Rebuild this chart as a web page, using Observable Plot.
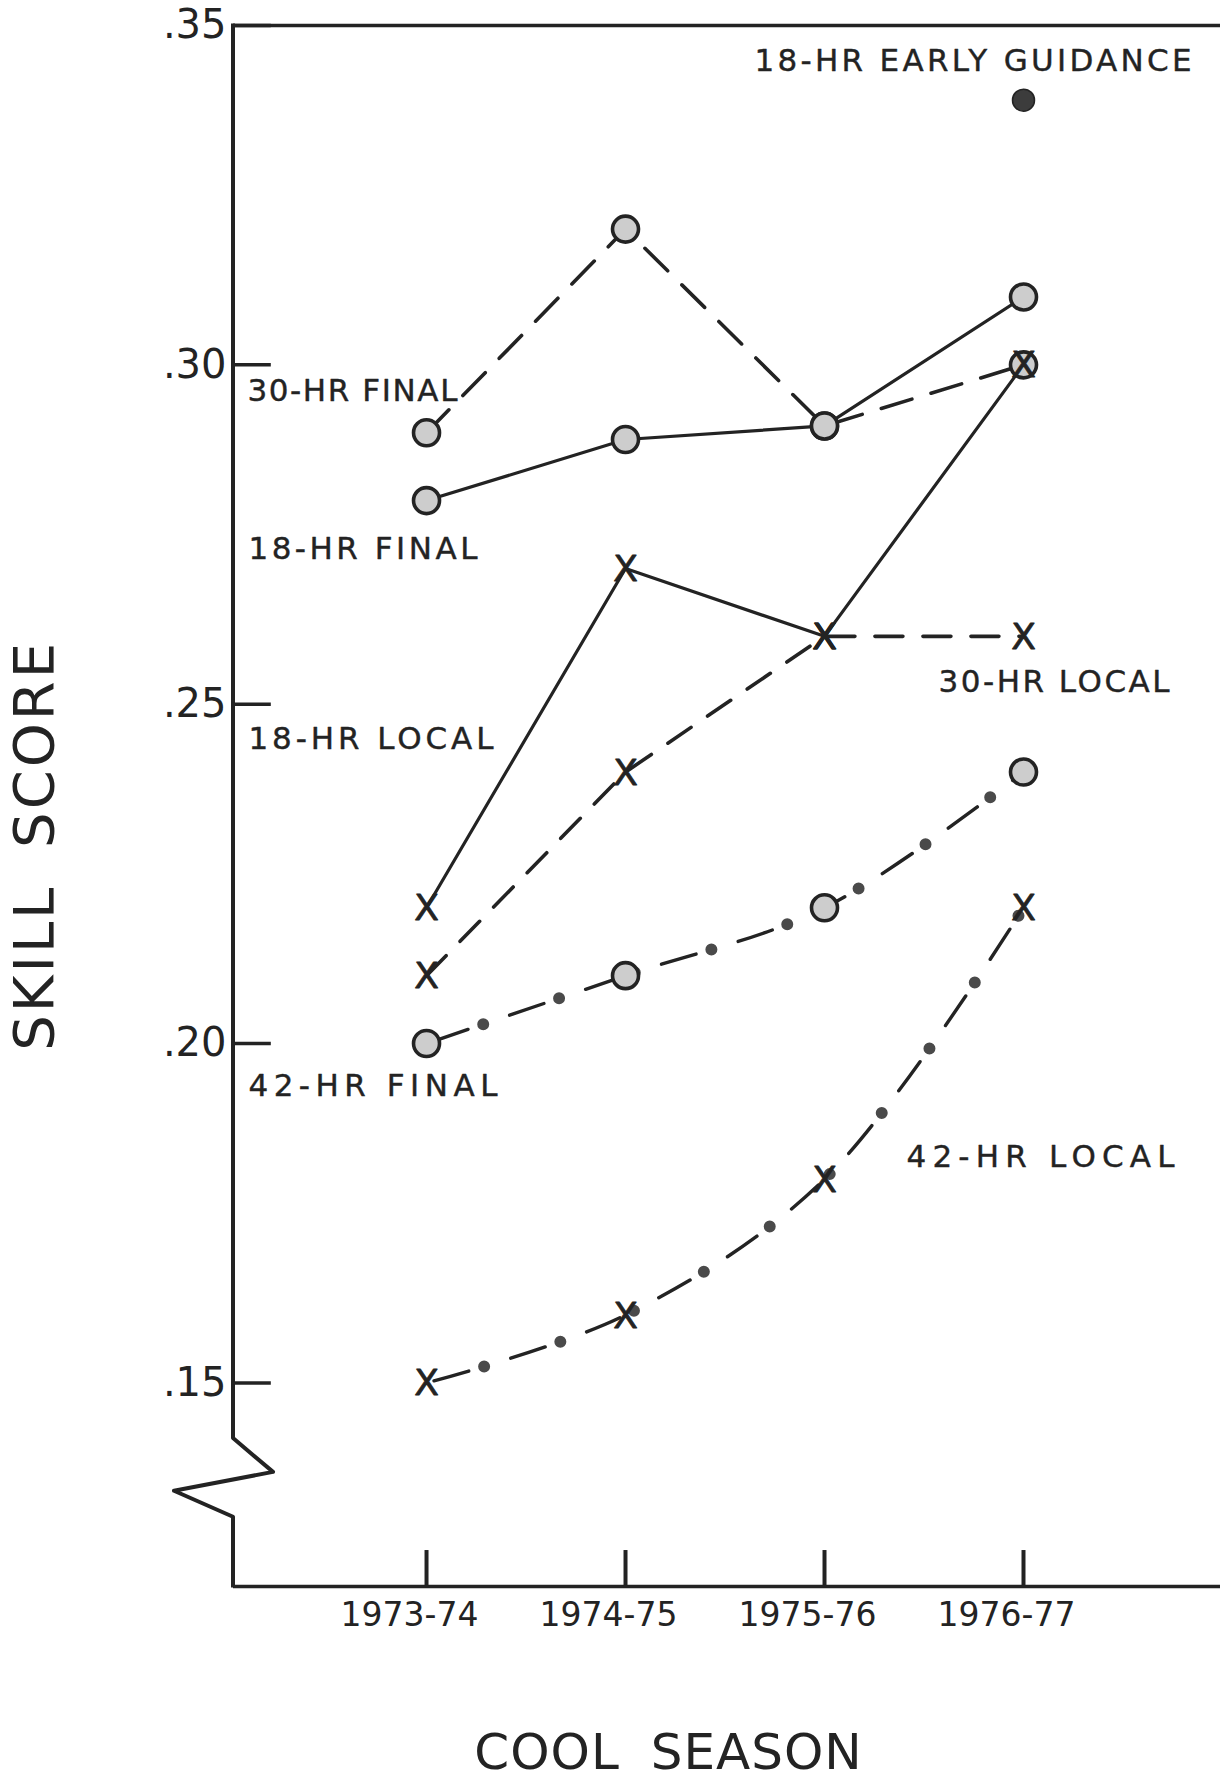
<!DOCTYPE html>
<html><head><meta charset="utf-8">
<script src="https://cdn.jsdelivr.net/npm/d3@7"></script>
<script src="https://cdn.jsdelivr.net/npm/@observablehq/plot@0.6"></script>
<style>
body{margin:0;background:#fff}
#chart svg{display:block}
</style>
</head><body><div id="chart"></div>
<script>
// ---- data ----
const seasons = ["1973-74", "1974-75", "1975-76", "1976-77"];
const final18 = [0.280, 0.289, 0.291, 0.310];
const final30 = [0.290, 0.320, 0.291, 0.300];
const local18 = [0.220, 0.270, 0.260, 0.300];
const local30 = [0.210, 0.240, 0.260, 0.260];
const final42 = [0.200, 0.210, 0.220, 0.240];
const local42 = [0.150, 0.160, 0.180, 0.220];
const earlyGuidance18 = [{season: "1976-77", value: 0.339}];
const yTicks = [0.15, 0.20, 0.25, 0.30, 0.35];
const yTickLabels = [".15", ".20", ".25", ".30", ".35"];
const seriesLabels = [
  {text: "18-HR EARLY GUIDANCE", x: 1.648, y: 0.3448},
  {text: "30-HR FINAL", x: -0.90, y: 0.2962},
  {text: "18-HR FINAL", x: -0.895, y: 0.2728},
  {text: "18-HR LOCAL", x: -0.895, y: 0.2448},
  {text: "30-HR LOCAL", x: 2.573, y: 0.2533},
  {text: "42-HR FINAL", x: -0.895, y: 0.1937},
  {text: "42-HR LOCAL", x: 2.412, y: 0.1832}
];
const xTitle = "COOL SEASON";
const yTitle = "SKILL SCORE";

// ---- styling (letter spacing per text, px) ----
const letterSpacingFor = {
  "18-HR EARLY GUIDANCE": 3.3,
  "30-HR FINAL": 1.6,
  "18-HR FINAL": 3.5,
  "18-HR LOCAL": 3.9,
  "30-HR LOCAL": 2.5,
  "42-HR FINAL": 5.5,
  "42-HR LOCAL": 6.2,
  "COOL SEASON": 1,
  "SKILL SCORE": 3
};

// ---- build ----
const idx = seasons.map((s, i) => i);
const rows = vals => vals.map((v, i) => ({i, v}));
const xDom = [-0.97, 3.99];
const yDom = [0.12, 0.35];
const breakHi = 0.1418, breakLo = 0.1302;
const ink = "#232323";
const font = "DejaVu Sans, sans-serif";

function leftAxis(index, scales, values, dims) {
  const x0 = scales.x(xDom[0]);
  const yTop = scales.y(yDom[1]) - 1.5, yBot = scales.y(yDom[0]) + 1.5;
  const b1 = scales.y(breakHi), b2 = scales.y(breakLo);
  const h = b2 - b1;
  const p = d3.path();
  p.moveTo(x0, yTop);
  p.lineTo(x0, b1);
  p.lineTo(x0 + 40, b1 + h * 0.43);
  p.lineTo(x0 - 59, b1 + h * 0.67);
  p.lineTo(x0, b2);
  p.lineTo(x0, yBot);
  return d3.create("svg:path")
    .attr("d", p.toString())
    .attr("fill", "none")
    .attr("stroke", ink)
    .attr("stroke-width", 4)
    .attr("stroke-linejoin", "round")
    .node();
}

const dashDot = (vals) => [
  Plot.line(rows(vals), {x: "i", y: "v", stroke: ink, strokeWidth: 3.4, strokeDasharray: "36,44", strokeDashoffset: -8, curve: "catmull-rom"}),
  Plot.line(rows(vals), {x: "i", y: "v", stroke: "#4a4a4a", strokeWidth: 12, strokeLinecap: "round", strokeDasharray: "0,80", strokeDashoffset: 20, curve: "catmull-rom"})
];

const chart = Plot.plot({
  width: 1220,
  height: 1783,
  marginLeft: 233,
  marginRight: 0,
  marginTop: 25,
  marginBottom: 197,
  style: {fontFamily: font, background: "#fff"},
  x: {type: "linear", domain: xDom},
  y: {type: "linear", domain: yDom},
  marks: [
    Plot.ruleY([yDom[1]], {stroke: ink, strokeWidth: 3.5}),
    Plot.ruleY([yDom[0]], {stroke: ink, strokeWidth: 3.5}),
    leftAxis,
    Plot.ruleY(yTicks, {x1: xDom[0], x2: xDom[0] + 0.19, stroke: ink, strokeWidth: 3.5}),
    Plot.ruleX(idx, {y1: yDom[0], y2: yDom[0] + 0.0053, stroke: ink, strokeWidth: 4}),
    Plot.axisY(yTicks, {tickSize: 0, tickPadding: 7, tickFormat: d => yTickLabels[yTicks.indexOf(d)], fontSize: 40, fill: ink, label: null}),
    Plot.axisX(idx, {tickSize: 0, tickPadding: 16, dx: -17, tickFormat: d => seasons[d], fontSize: 33, fill: ink, label: null}),
    // series lines
    Plot.line(rows(final18), {x: "i", y: "v", stroke: ink, strokeWidth: 3.2}),
    Plot.line(rows(local18), {x: "i", y: "v", stroke: ink, strokeWidth: 3.2}),
    Plot.line(rows(final30), {x: "i", y: "v", stroke: ink, strokeWidth: 3.6, strokeDasharray: "32,20"}),
    Plot.line(rows(local30), {x: "i", y: "v", stroke: ink, strokeWidth: 3.6, strokeDasharray: "28,20"}),
    ...dashDot(final42),
    ...dashDot(local42),
    // markers
    Plot.dot([...rows(final18), ...rows(final30), ...rows(final42)], {x: "i", y: "v", r: 13, fill: "#cdcdcd", stroke: ink, strokeWidth: 3.6}),
    Plot.text([...rows(local18), ...rows(local30), ...rows(local42)], {x: "i", y: "v", text: () => "X", fontSize: 36, fill: ink, stroke: ink, strokeWidth: 0.8, dy: 1}),
    Plot.dot(earlyGuidance18, {x: d => seasons.indexOf(d.season), y: "value", r: 11, fill: "#3c3c3c", stroke: ink, strokeWidth: 1.5}),
    // labels
    Plot.text(seriesLabels, {x: "x", y: "y", text: "text", textAnchor: "start", fontSize: 31, fill: ink, stroke: ink, strokeWidth: 0.4}),
    Plot.text([xTitle], {x: 1.216, frameAnchor: "bottom", dy: 166, lineAnchor: "middle", textAnchor: "middle", text: d => d, fontSize: 50, fill: ink}),
    Plot.text([yTitle], {frameAnchor: "left", dx: -198, y: 0.2292, textAnchor: "middle", lineAnchor: "middle", text: d => d, rotate: -90, fontSize: 56, fill: ink})
  ]
});
d3.select(chart).selectAll("text").each(function () {
  const t = this.textContent;
  if (letterSpacingFor[t] != null) this.style.letterSpacing = letterSpacingFor[t] + "px";
  if (t === xTitle) this.style.wordSpacing = "14px";
  if (t === yTitle) this.style.wordSpacing = "16px";
});
document.getElementById("chart").appendChild(chart);
</script>
</body></html>
